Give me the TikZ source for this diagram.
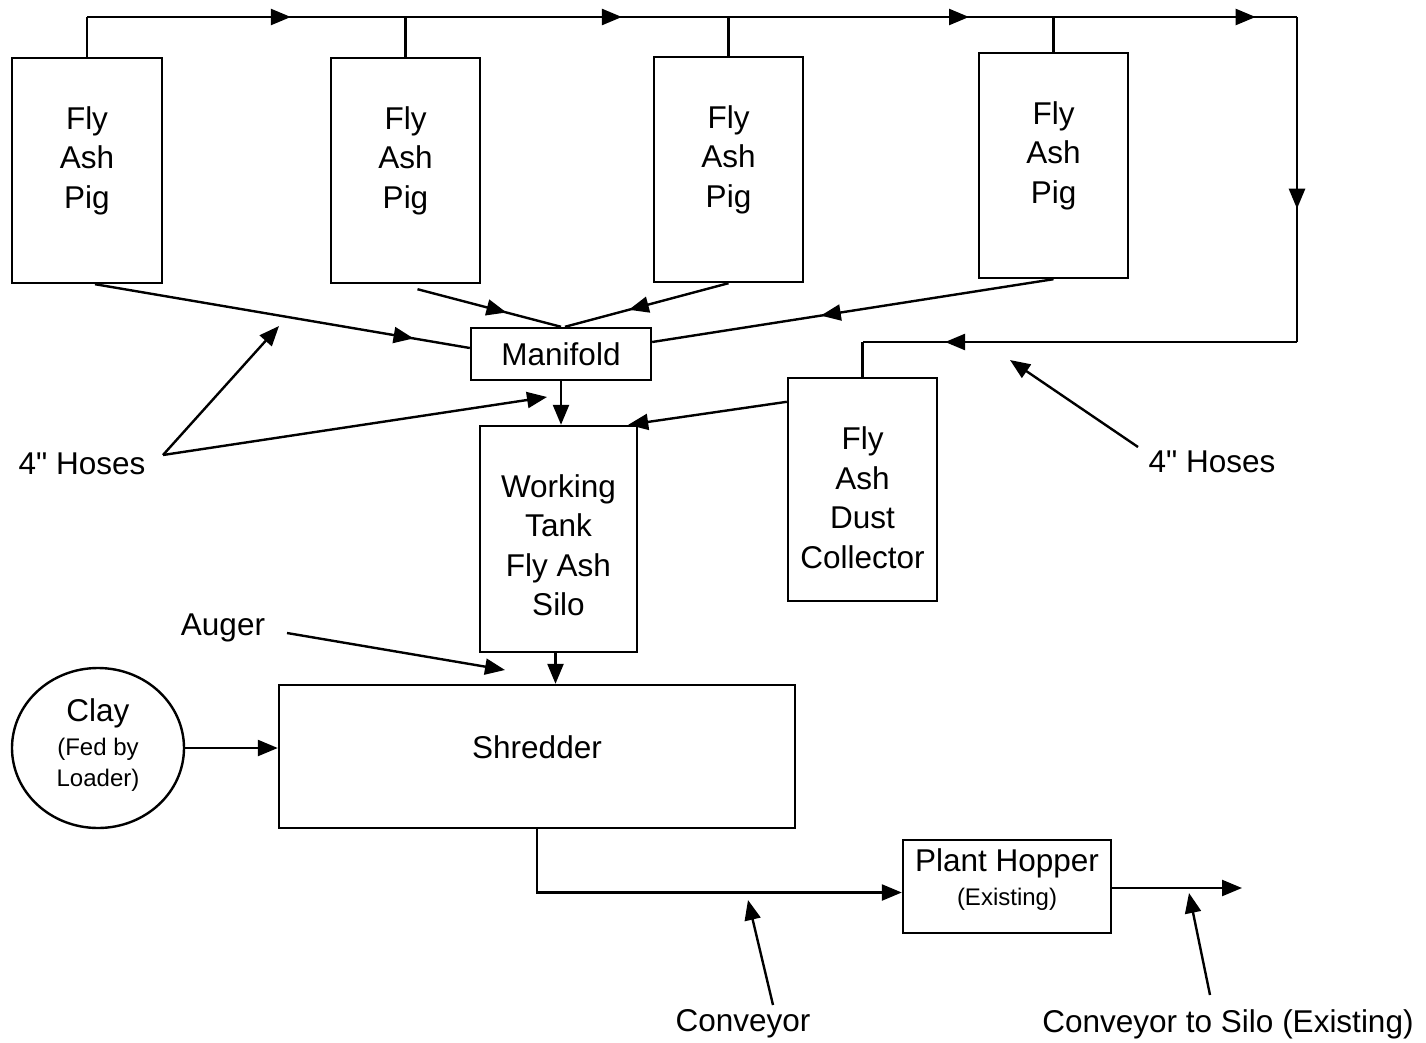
\documentclass[tikz,border=0pt]{standalone}
\usepackage{fontspec}
\setmainfont{Liberation Sans}[Ligatures=TeXOff]
\usetikzlibrary{arrows.meta,decorations.markings,shapes.geometric}
\tikzset{
  box/.style={draw,line width=2.4pt,inner sep=0pt},
  big/.style={font=\fontsize{31.5}{39.5}\selectfont,align=center},
  small/.style={font=\fontsize{24}{31}\selectfont,align=center},
  conn/.style={line width=2.4pt},
  tip/.style={-{Triangle[length=20pt,width=16pt]}},
  marr/.style={postaction={decorate},decoration={markings,mark=at position #1 with {\arrow{Triangle[length=20pt,width=16pt]}}}},
}
\begin{document}
\begin{tikzpicture}[x=1pt,y=-1pt]
\useasboundingbox (0,0) rectangle (1426,1043);
% Fly ash pigs
\node[box,minimum width=150pt,minimum height=225pt,label={[big,yshift=10pt]center:Fly\\Ash\\Pig}] (p1) at (87,170.5) {};
\node[box,minimum width=149pt,minimum height=225pt,label={[big,yshift=10pt]center:Fly\\Ash\\Pig}] (p2) at (405.5,170.5) {};
\node[box,minimum width=149pt,minimum height=225pt,label={[big,yshift=10pt]center:Fly\\Ash\\Pig}] (p3) at (728.5,169.5) {};
\node[box,minimum width=149pt,minimum height=225pt,label={[big,yshift=10pt]center:Fly\\Ash\\Pig}] (p4) at (1053.5,165.5) {};
% manifold, tank, collector
\node[box,big,minimum width=180pt,minimum height=52pt] (mf) at (561,354) {Manifold};
\node[box,minimum width=157pt,minimum height=226pt,label={[big,yshift=-6pt]center:Working\\Tank\\Fly Ash\\Silo}] (wt) at (558.5,539) {};
\node[box,minimum width=149pt,minimum height=223pt,label={[big,yshift=-8pt]center:Fly\\Ash\\Dust\\Collector}] (dc) at (862.5,489.5) {};
\node[box,minimum width=516pt,minimum height=143pt,label={[big,yshift=9.5pt]center:Shredder}] (sh) at (537,756.5) {};
\node[draw,ellipse,line width=2.4pt,minimum width=172pt,minimum height=160pt,inner sep=0pt,
  label={[small,yshift=3pt]center:{\fontsize{31.5}{31}\selectfont Clay}\\[3pt](Fed by\\Loader)}] (cl) at (98,748) {};
\node[box,minimum width=208pt,minimum height=93pt,
  label={[small,yshift=7pt]center:{\fontsize{31.5}{31}\selectfont Plant Hopper}\\[3pt](Existing)}] (ph) at (1007,886.5) {};
% labels
\node[big] (hl) at (82,464) {4" Hoses};
\node[big] (hr) at (1212,462) {4" Hoses};
\node[big] (au) at (223,628) {Auger};
\node[big] (cv) at (743,1024) {Conveyor};
\node[big] (cs) at (1228,1024) {Conveyor to Silo (Existing)};
% top header line
\coordinate (j1) at (p1.north |- 0,17);
\coordinate (j2) at (p2.north |- 0,17);
\coordinate (j3) at (p3.north |- 0,17);
\coordinate (j4) at (p4.north |- 0,17);
\coordinate (tr) at (1297,17);
\coordinate (br) at (1297,342);
\coordinate (bl) at (dc.north |- br);
\draw[conn] (p1.north) -- (j1);
\draw[conn] (p2.north) -- (j2);
\draw[conn] (p3.north) -- (j3);
\draw[conn] (p4.north) -- (j4);
\draw[conn,marr=0.64] (j1) -- (j2);
\draw[conn,marr=0.67] (j2) -- (j3);
\draw[conn,marr=0.74] (j3) -- (j4);
\draw[conn,marr=0.83] (j4) -- (tr);
\draw[conn,marr=0.59] (tr) -- (br);
\draw[conn,marr=0.81] (br) -- (bl);
\draw[conn] (bl) -- (dc.north);
% pigs to manifold
\draw[conn,marr=0.85] ([xshift=8pt]p1.south) -- ([yshift=6pt]mf.west);
\draw[conn,marr=0.62] ([xshift=12pt,yshift=-5pt]p2.south) -- (mf.north);
\draw[conn,marr=0.61] (p3.south) -- ([xshift=4pt]mf.north);
\draw[conn,marr=0.58] (p4.south) -- ([yshift=12pt]mf.east);
% flows
\draw[conn,tip] (mf.south) -- (mf.south |- wt.north);
\draw[conn,tip] ([yshift=-25pt]dc.north west) -- ([xshift=-10pt]wt.north east);
\draw[conn,tip] ([xshift=-3pt]wt.south) -- ([xshift=-3pt]wt.south |- sh.north);
\draw[conn,tip] (cl.east) -- (cl.east -| sh.west);
\draw[conn,tip] (sh.south) |- ([yshift=-6pt]ph.west);
\coordinate (out) at (1242,888);
\draw[conn,tip] ([yshift=-1.5pt]ph.east) -- (out);
% pointer lines
\coordinate (hv) at (163,455);
\coordinate (ha1) at (279,326);
\coordinate (ha2) at (547,397);
\draw[conn,tip] (hv) -- (ha1);
\draw[conn,tip] (hv) -- (ha2);
\coordinate (hrs) at (1138,447);
\coordinate (hre) at (1010,360);
\draw[conn,tip] (hrs) -- (hre);
\coordinate (aus) at (287,633);
\coordinate (aue) at (505,670);
\draw[conn,tip] (aus) -- (aue);
\coordinate (cvs) at (773,1005);
\coordinate (cve) at (748,900);
\draw[conn,tip] (cvs) -- (cve);
\coordinate (css) at (1210,995);
\coordinate (cse) at (1189,893);
\draw[conn,tip] (css) -- (cse);
\end{tikzpicture}
\end{document}
